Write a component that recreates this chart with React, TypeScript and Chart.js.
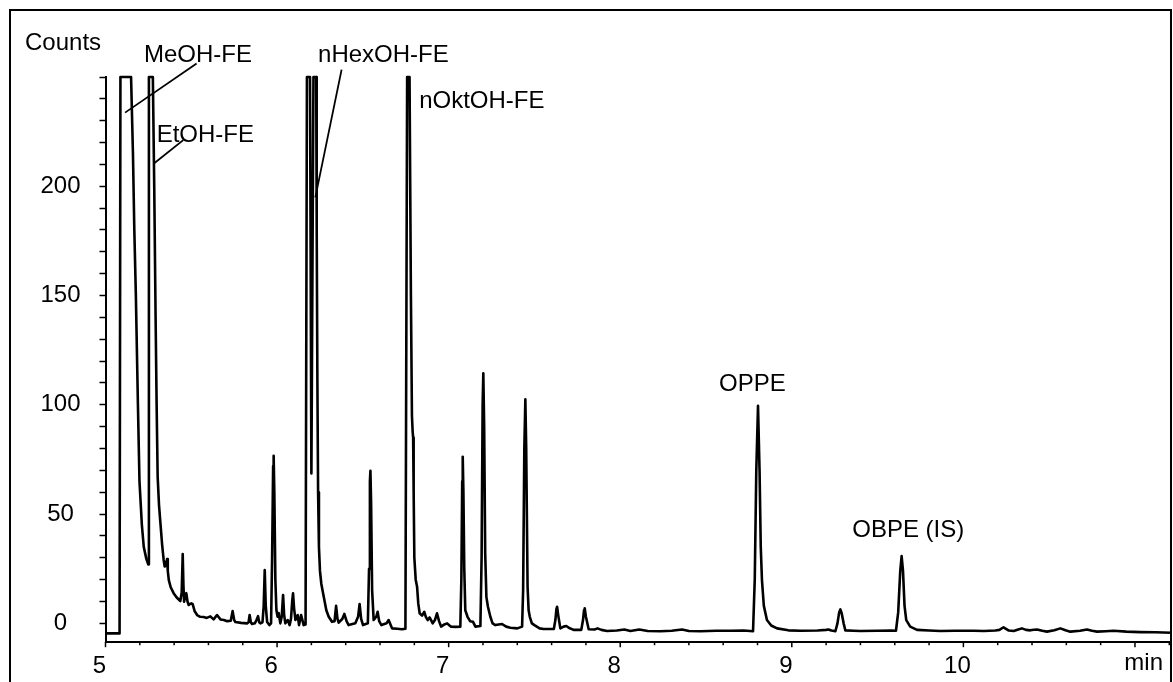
import { useEffect, useRef } from "react";
import { Chart, registerables } from "chart.js";

Chart.register(...registerables);

// Chromatogram trace: retention time (min) and detector counts
const timesMin = [
  5.000, 5.082, 5.087, 5.149, 5.160, 5.168, 5.177, 5.189, 5.198, 5.212, 5.223, 5.238, 5.249,
  5.253, 5.276, 5.284, 5.292, 5.298, 5.304, 5.312, 5.320, 5.330, 5.339, 5.345, 5.352, 5.359,
  5.363, 5.369, 5.380, 5.397, 5.415, 5.436, 5.444, 5.450, 5.454, 5.458, 5.465, 5.471, 5.478,
  5.485, 5.500, 5.508, 5.520, 5.534, 5.552, 5.572, 5.590, 5.611, 5.630, 5.650, 5.670, 5.690,
  5.709, 5.730, 5.741, 5.750, 5.757, 5.790, 5.825, 5.834, 5.840, 5.847, 5.854, 5.870, 5.880,
  5.889, 5.896, 5.903, 5.915, 5.922, 5.928, 5.934, 5.942, 5.955, 5.965, 5.971, 5.977, 5.980,
  5.984, 5.990, 5.996, 6.003, 6.009, 6.019, 6.027, 6.035, 6.041, 6.048, 6.062, 6.073, 6.081,
  6.088, 6.093, 6.099, 6.107, 6.120, 6.128, 6.140, 6.155, 6.166, 6.174, 6.192, 6.200, 6.212,
  6.228, 6.231, 6.235, 6.239, 6.244, 6.250, 6.258, 6.272, 6.287, 6.301, 6.320, 6.335, 6.344, 6.352,
  6.359, 6.380, 6.392, 6.405, 6.417, 6.456, 6.472, 6.481, 6.490, 6.501, 6.529, 6.536, 6.541,
  6.544, 6.548, 6.554, 6.563, 6.578, 6.586, 6.595, 6.608, 6.638, 6.650, 6.670, 6.700, 6.728,
  6.748, 6.758, 6.772, 6.780, 6.786, 6.790, 6.793, 6.796, 6.800, 6.808, 6.816, 6.823, 6.831,
  6.845, 6.858, 6.867, 6.878, 6.889, 6.907, 6.920, 6.932, 6.944, 6.956, 6.975, 6.991, 7.005,
  7.014, 7.040, 7.068, 7.074, 7.079, 7.082, 7.086, 7.091, 7.097, 7.110, 7.125, 7.142, 7.156,
  7.185, 7.192, 7.198, 7.202, 7.207, 7.213, 7.220, 7.229, 7.243, 7.256, 7.272, 7.311, 7.335,
  7.360, 7.400, 7.428, 7.434, 7.441, 7.447, 7.452, 7.460, 7.466, 7.473, 7.485, 7.500, 7.530,
  7.554, 7.613, 7.622, 7.628, 7.632, 7.638, 7.651, 7.670, 7.686, 7.700, 7.728, 7.773, 7.783,
  7.789, 7.793, 7.800, 7.816, 7.850, 7.868, 7.890, 7.923, 7.980, 8.024, 8.059, 8.111, 8.160,
  8.234, 8.300, 8.360, 8.400, 8.467, 8.560, 8.642, 8.720, 8.774, 8.784, 8.793, 8.803, 8.812,
  8.819, 8.826, 8.837, 8.855, 8.880, 8.914, 8.980, 9.050, 9.150, 9.200, 9.214, 9.230, 9.254,
  9.266, 9.276, 9.283, 9.291, 9.302, 9.312, 9.360, 9.399, 9.500, 9.580, 9.607, 9.620, 9.632,
  9.640, 9.648, 9.657, 9.667, 9.690, 9.730, 9.800, 9.865, 9.950, 10.059, 10.120, 10.186,
  10.210, 10.234, 10.265, 10.293, 10.320, 10.341, 10.365, 10.390, 10.410, 10.429, 10.460,
  10.487, 10.530, 10.565, 10.595, 10.623, 10.680, 10.720, 10.750, 10.779, 10.830, 10.875,
  10.950, 11.031, 11.120, 11.212,
];

const counts = [
  -4.6, -4.6, 250, 250, 215, 180, 150, 100, 65, 45, 35, 29.5, 27,
  250, 250, 200, 140, 100, 67, 54, 46, 36, 29, 26, 27, 29.4,
  24, 19.8, 16.5, 13.8, 11.8, 10.2, 14, 31.7, 18, 9.9, 12.5, 13.8, 10,
  8.4, 9.2, 8.8, 5.5, 3.8, 3.0, 2.9, 2.5, 3.2, 1.8, 3.8, 1.8, 1.5,
  1.0, 1.2, 5.6, 1.5, 0.6, 0.2, 0, 0.5, 3.8, 0.5, -0.3, 0, 1.5,
  3.3, 0.5, 0, 0.5, 8, 24.4, 8, 0.6, -0.8, 0, 30, 72, 76.7,
  60, 20, 6.1, 3, 4.7, 0, 3, 13, 4, 0, 1.5, -0.8, 2,
  10, 13.7, 7, 1.5, 3.8, -0.8, 3.8, -0.8, -0.5, 250, 250, 68.6, 250,
  250, 180, 110, 60, 35, 24, 18, 12.2, 6, 3, 0.7, 1, 8, 2,
  0.3, 2, 4.3, 1, -0.8, 0, 3, 8.8, 2, -0.8, 0, 25, 65,
  69.8, 55, 15, 1.5, 3, 5.3, 1, -0.8, 0, 1.5, -2.3, -2.5, -2.7,
  -2.5, 250, 250, 150, 95, 88, 85, 60, 30, 20, 16.7, 9, 4.6,
  3.5, 5.3, 3, 1.5, 2.7, 0, 1.5, 4.6, 1, -1.5, -0.5, 0, -1,
  -1.5, -1.6, -1.5, 20, 65, 76.2, 60, 25, 6, 3, 1, 0.7, -1.5,
  -1.2, 30, 100, 114.4, 90, 32, 12, 7.6, 3, 0, -0.8, -0.3, -1.5,
  -2, -2.3, -1.5, 15, 80, 102.5, 80, 16.7, 6, 3, 0, -0.8, -2.3,
  -2.6, -2.6, 1.5, 6.5, 7.6, 4, -2.3, -1.5, -1.2, -2, -3, -3, 1.5,
  6, 6.9, 3, -2.7, -2.8, -2.3, -3, -3.5, -3.3, -2.8, -3.5, -2.8, -3.5,
  -3.6, -3.4, -2.8, -3.5, -3.6, -3.4, -3.4, -3.3, -3.6, 20, 70, 99.5, 70,
  35, 19.8, 8, 1.5, -1, -2.3, -3.2, -3.4, -3.3, -3.0, -2.8, -3.3, -3.6,
  0, 5, 6.4, 4.5, 0, -3.2, -3.4, -3.5, -3.4, -3.3, -3.4, 5, 24,
  30.8, 24, 8, 1.5, -1.5, -3, -3.3, -3.5, -3.4, -3.4, -3.5, -3.3,
  -3.0, -1.8, -3.3, -3.5, -2.8, -2.3, -3.0, -3.2, -2.9, -2.8, -3.4,
  -3.8, -3.2, -2.3, -3.2, -3.8, -3.4, -2.8, -3.4, -3.8, -3.6, -3.4,
  -3.8, -4, -4.1, -4.3,
];

// Axes
const xMin = 5;
const xMax = 11.21;
const yMin = -8.4;
const yMax = 250;
const xTickValues = [5, 6, 7, 8, 9, 10, 11];
const xTickLabels = ["5", "6", "7", "8", "9", "10", ""];
const xMinorStep = 0.2;
const xUnitLabel = "min";
const yTickValues = [0, 10, 20, 30, 40, 50, 60, 70, 80, 90, 100, 110, 120, 130, 140, 150, 160, 170, 180, 190, 200, 210, 220, 230, 240, 250];
const yLabelValues = [0, 50, 100, 150, 200];
const yTickLabels = ["0", "50", "100", "150", "200"];
const yTitle = "Counts";
const yTitleTime = 4.531;
const yTitleCounts = 262.3;

// Peak annotations (text anchor in data coordinates)
const peakNames = ["MeOH-FE", "EtOH-FE", "nHexOH-FE", "nOktOH-FE", "OPPE", "OBPE (IS)"];
const peakLabelTimes = [5.224, 5.298, 6.239, 6.828, 8.576, 9.352];
const peakLabelCounts = [256.9, 220.3, 256.9, 235.6, 106.3, 39.7];
// Leader lines for the first three labels
const leaderFromTimes = [5.531, 5.453, 6.376];
const leaderFromCounts = [256.2, 221.1, 253.4];
const leaderToTimes = [5.114, 5.282, 6.223];
const leaderToCounts = [233.7, 210.4, 194.9];

const FONT = '24px "Liberation Sans", Arial, sans-serif';

const decorPlugin = {
  id: "decor",
  afterDraw(chart: any) {
    const ctx = chart.ctx;
    const xs = chart.scales.x;
    const ys = chart.scales.y;
    ctx.save();
    // outer frame
    ctx.strokeStyle = "#000";
    ctx.lineWidth = 2;
    ctx.strokeRect(10, 10, 1161, 720);
    // x minor/major ticks
    const axisY = xs.top;
    ctx.lineWidth = 1.5;
    for (let v = xMin; v <= xMax + 1e-6; v += xMinorStep) {
      const r = Math.round(v * 10) / 10;
      const major = Math.abs(r - Math.round(r)) < 1e-6;
      const px = xs.getPixelForValue(r);
      ctx.beginPath();
      ctx.moveTo(px, axisY);
      ctx.lineTo(px, axisY + (major ? 5.5 : 3.5));
      ctx.stroke();
    }
    ctx.font = FONT;
    ctx.fillStyle = "#000";
    // unit label
    ctx.textAlign = "right";
    ctx.textBaseline = "alphabetic";
    ctx.fillText(xUnitLabel, chart.chartArea.right - 8, axisY + 28.5);
    // y title
    ctx.textAlign = "left";
    ctx.fillText(yTitle, xs.getPixelForValue(yTitleTime), ys.getPixelForValue(yTitleCounts));
    // peak labels
    peakNames.forEach((name, i) => {
      ctx.fillText(name, xs.getPixelForValue(peakLabelTimes[i]), ys.getPixelForValue(peakLabelCounts[i]));
    });
    // leader lines
    ctx.lineWidth = 1.8;
    leaderFromTimes.forEach((t, i) => {
      ctx.beginPath();
      ctx.moveTo(xs.getPixelForValue(t), ys.getPixelForValue(leaderFromCounts[i]));
      ctx.lineTo(xs.getPixelForValue(leaderToTimes[i]), ys.getPixelForValue(leaderToCounts[i]));
      ctx.stroke();
    });
    ctx.restore();
  },
};

export default function App() {
  const ref = useRef<HTMLCanvasElement | null>(null);
  useEffect(() => {
    if (!ref.current) return;
    const data = timesMin.map((t, i) => ({ x: t, y: counts[i] }));
    const chart = new Chart(ref.current, {
      type: "line",
      data: {
        datasets: [
          {
            data,
            borderColor: "#000",
            borderWidth: 2.6,
            borderJoinStyle: "round",
            pointRadius: 0,
            tension: 0,
            fill: false,
            clip: 4,
          } as any,
        ],
      },
      options: {
        animation: false,
        responsive: false,
        devicePixelRatio: 1,
        layout: { padding: { top: 77, right: 2, left: 0, bottom: 0 } },
        plugins: { legend: { display: false }, tooltip: { enabled: false } },
        scales: {
          x: {
            type: "linear",
            min: xMin,
            max: xMax,
            afterBuildTicks: (scale: any) => {
              scale.ticks = xTickValues.map((v) => ({ value: v }));
            },
            afterFit: (scale: any) => {
              scale.height = 40.3;
            },
            ticks: {
              autoSkip: false,
              maxRotation: 0,
              padding: 10,
              labelOffset: -6,
              color: "#000",
              font: { family: '"Liberation Sans", Arial, sans-serif', size: 24 },
              callback: (_v: any, i: number) => xTickLabels[i],
            },
            grid: { display: true, drawOnChartArea: false, drawTicks: false, color: "#000" },
            border: { display: true, color: "#000", width: 2 },
          },
          y: {
            type: "linear",
            min: yMin,
            max: yMax,
            afterBuildTicks: (scale: any) => {
              scale.ticks = yTickValues.map((v) => ({ value: v }));
            },
            afterFit: (scale: any) => {
              scale.width = 105.5;
            },
            ticks: {
              autoSkip: false,
              padding: 19,
              crossAlign: "center",
              color: "#000",
              font: { family: '"Liberation Sans", Arial, sans-serif', size: 24 },
              callback: (v: any) => {
                const k = yLabelValues.indexOf(Number(v));
                return k >= 0 ? yTickLabels[k] : "";
              },
            },
            grid: {
              display: true,
              drawOnChartArea: false,
              drawTicks: true,
              tickLength: 6,
              tickWidth: 1.5,
              color: "#000",
            },
            border: { display: true, color: "#000", width: 2 },
          },
        },
      },
      plugins: [decorPlugin],
    });
    return () => chart.destroy();
  }, []);
  return (
    <div style={{ position: "absolute", left: 0, top: 0, width: 1173, height: 682, background: "#fff" }}>
      <canvas ref={ref} width={1173} height={682} style={{ display: "block" }} />
    </div>
  );
}
